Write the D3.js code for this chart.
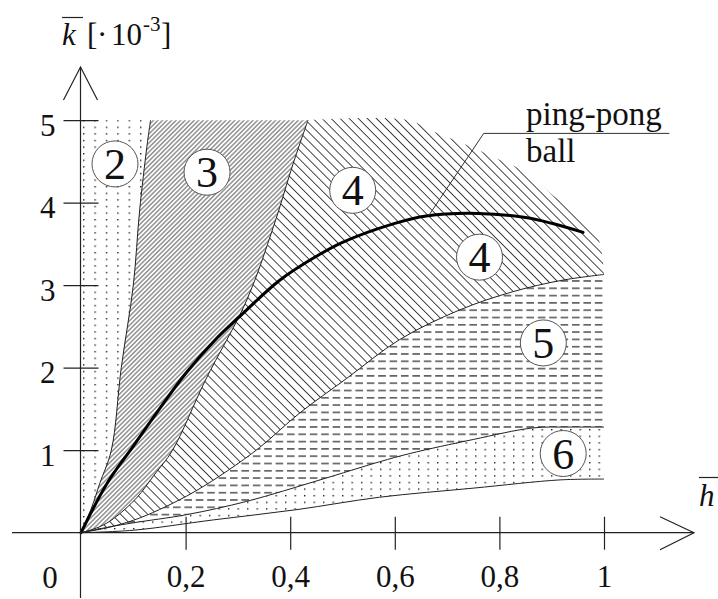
<!DOCTYPE html>
<html>
<head>
<meta charset="utf-8">
<script src="https://cdn.jsdelivr.net/npm/d3@7"></script>
<style>
  html, body { margin: 0; padding: 0; background: #fff; }
  svg { display: block; }
</style>
</head>
<body>
<svg id="chart" width="718" height="599"></svg>
<script>
// Region boundaries, as [h, k] pairs (k in units of 1e-3)
const boundary23 = [[0,0],[0.02,0.3],[0.036,0.6],[0.058,1.0],[0.077,2.0],[0.1,3.0],[0.112,3.9],[0.126,4.68],[0.133,5]];
const boundary34 = [[0,0],[0.035,0.07],[0.062,0.17],[0.106,0.42],[0.14,0.7],[0.175,1.0],[0.238,1.85],[0.317,2.82],[0.368,3.71],[0.406,4.48],[0.434,5]];
const boundary45 = [[0,0],[0.05,0.06],[0.1,0.15],[0.15,0.28],[0.218,0.5],[0.28,0.75],[0.341,1.03],[0.418,1.45],[0.508,1.87],[0.609,2.34],[0.724,2.70],[0.825,2.92],[0.92,3.06],[1.0,3.13]];
const boundary56 = [[0,0],[0.054,0.07],[0.1,0.12],[0.203,0.22],[0.317,0.38],[0.457,0.64],[0.571,0.86],[0.629,0.96],[0.75,1.13],[0.864,1.27],[0.93,1.28],[1.0,1.28]];
const boundaryBottom = [[0,0],[0.1,0.03],[0.253,0.155],[0.413,0.28],[0.571,0.43],[0.75,0.54],[0.916,0.64],[1.0,0.65]];
// outer edge of the hatched zone 4 (not stroked)
const zone4Edge = [[0.434,5],[0.625,5],[0.675,4.86],[0.73,4.72],[0.80,4.52],[0.853,4.36],[0.902,4.09],[0.954,3.85],[0.99,3.55],[1.0,3.13]];
// ping-pong ball curve
const pingPong = [[0,0],[0.05,0.6],[0.1,1.05],[0.15,1.5],[0.2,1.93],[0.26,2.36],[0.3,2.6],[0.38,3.06],[0.45,3.35],[0.5,3.52],[0.6,3.75],[0.66,3.84],[0.76,3.87],[0.85,3.82],[0.9,3.75],[0.96,3.64]];

const xTicks = [0.2, 0.4, 0.6, 0.8, 1];
const xTickLabels = ["0,2", "0,4", "0,6", "0,8", "1"];
const yTicks = [1, 2, 3, 4, 5];
const yTickLabels = ["1", "2", "3", "4", "5"];

const zoneLabels = ["2", "3", "4", "4", "5", "6"];
const zoneLabelH = [0.065, 0.241, 0.5195, 0.762, 0.884, 0.922];
const zoneLabelK = [4.47, 4.37, 4.15, 3.34, 2.30, 0.96];

const calloutText = ["ping-pong", "ball"];

const SERIF = "'Liberation Serif', Tinos, 'Times New Roman', Times, 'DejaVu Serif', serif";

const svg = d3.select("#chart").attr("font-family", SERIF);
const x = d3.scaleLinear().domain([0, 1]).range([81, 604]);
const y = d3.scaleLinear().domain([0, 5]).range([532.7, 120.2]);

function label(sel) {
  return sel.append("text").attr("font-family", SERIF).attr("fill", "#111");
}

// ---- fill patterns ----
const defs = svg.append("defs");

function dotPattern(id, w, h, ox, oy) {
  const p = defs.append("pattern").attr("id", id).attr("patternUnits", "userSpaceOnUse")
    .attr("width", w).attr("height", h).attr("x", ox).attr("y", oy);
  p.append("rect").attr("x", 0).attr("y", 0).attr("width", 1.4).attr("height", 1.4).attr("fill", "#222");
}
function hatchPattern(id, gap, angle, width, color) {
  const p = defs.append("pattern").attr("id", id).attr("patternUnits", "userSpaceOnUse")
    .attr("width", gap).attr("height", gap).attr("patternTransform", `rotate(${angle})`);
  p.append("line").attr("x1", gap / 2).attr("x2", gap / 2).attr("y1", -1).attr("y2", gap + 1)
    .attr("stroke", color).attr("stroke-width", width);
}
dotPattern("dots2", 11.4, 6.6, 83, 120);
dotPattern("dots6", 9.5, 6.6, 0, 0);
hatchPattern("hatch3", 3.2, 45, 0.85, "#3c3c3c");
hatchPattern("hatch4", 6.4, -45, 0.9, "#333");
{
  const p = defs.append("pattern").attr("id", "dash5").attr("patternUnits", "userSpaceOnUse")
    .attr("width", 11.4).attr("height", 7.3).attr("x", 2).attr("y", 0);
  p.append("line").attr("x1", 0).attr("x2", 7.6).attr("y1", 3.6).attr("y2", 3.6)
    .attr("stroke", "#222").attr("stroke-width", 1.2);
}

// ---- path helpers ----
const line = d3.line().x(d => x(d[0])).y(d => y(d[1])).curve(d3.curveCatmullRom.alpha(0.5));
const straight = d3.line().x(d => x(d[0])).y(d => y(d[1]));
function joined(segments) {
  // join curve segments into one closed outline
  return segments.map((s, i) => {
    const p = (s.straight ? straight : line)(s.pts);
    return i === 0 ? p : "L" + p.slice(1);
  }).join("") + "Z";
}
const rev = a => a.slice().reverse();

const zones = svg.append("g");
zones.append("path").attr("fill", "url(#dots2)")
  .attr("d", joined([{pts: [[0, 5], [0, 0]], straight: true}, {pts: boundary23}]));
zones.append("path").attr("fill", "url(#hatch3)")
  .attr("d", joined([{pts: boundary23}, {pts: [[0.133, 5], [0.434, 5]], straight: true}, {pts: rev(boundary34)}]));
zones.append("path").attr("fill", "url(#hatch4)")
  .attr("d", joined([{pts: boundary34}, {pts: zone4Edge}, {pts: rev(boundary45)}]));
zones.append("path").attr("fill", "url(#dash5)")
  .attr("d", joined([{pts: boundary45}, {pts: [[1, 3.13], [1, 1.28]], straight: true}, {pts: rev(boundary56)}]));
zones.append("path").attr("fill", "url(#dots6)")
  .attr("d", joined([{pts: boundary56}, {pts: [[1, 1.28], [1, 0.65]], straight: true}, {pts: rev(boundaryBottom)}]));

// ---- boundary lines ----
const bounds = svg.append("g").attr("fill", "none").attr("stroke", "#222").attr("stroke-width", 1);
[boundary23, boundary34, boundary45, boundary56, boundaryBottom].forEach(b => {
  bounds.append("path").attr("d", line(b));
});

// ping-pong ball curve
svg.append("path").attr("d", line(pingPong)).attr("fill", "none")
  .attr("stroke", "#000").attr("stroke-width", 3).attr("stroke-linecap", "round");

// callout leader
const anchorH = 0.665, anchorK = 3.845;
svg.append("path").attr("fill", "none").attr("stroke", "#333").attr("stroke-width", 1)
  .attr("d", straight([[anchorH, anchorK], [0.77, 4.84], [1.125, 4.84]]));
label(svg).attr("x", 526).attr("y", 125).attr("font-size", 33).text(calloutText[0]);
label(svg).attr("x", 526).attr("y", 162).attr("font-size", 33).text(calloutText[1]);

// ---- zone numbers ----
const zl = svg.append("g");
zoneLabels.forEach((t, i) => {
  const cx = x(zoneLabelH[i]), cy = y(zoneLabelK[i]);
  zl.append("circle").attr("cx", cx).attr("cy", cy).attr("r", 23)
    .attr("fill", "#fff").attr("stroke", "#555").attr("stroke-width", 1);
  label(zl).attr("x", cx).attr("y", cy + 15).attr("text-anchor", "middle")
    .attr("font-size", 44).text(t);
});

// ---- axes ----
const xAxis = d3.axisBottom(x).tickValues(xTicks).tickSize(17)
  .tickFormat((d, i) => xTickLabels[i]);
const gx = svg.append("g").attr("transform", `translate(0,${y(0)})`).call(xAxis)
  .attr("font-family", SERIF);
gx.select(".domain").remove();
gx.selectAll(".tick line").attr("y1", -16).attr("stroke", "#222").attr("stroke-width", 1.2);
gx.selectAll(".tick text").attr("y", 54).attr("dy", 0).attr("font-size", 31)
  .attr("font-family", SERIF).attr("fill", "#111");

const yAxis = d3.axisLeft(y).tickValues(yTicks).tickSize(17)
  .tickFormat((d, i) => yTickLabels[i]);
const gy = svg.append("g").attr("transform", `translate(${x(0) - 0.5},0)`).call(yAxis)
  .attr("font-family", SERIF);
gy.select(".domain").remove();
gy.selectAll(".tick line").attr("x1", 18).attr("stroke", "#222").attr("stroke-width", 1.2);
gy.selectAll(".tick text").attr("x", -25).attr("y", 15).attr("dy", 0).attr("font-size", 31)
  .attr("font-family", SERIF).attr("fill", "#111").attr("text-anchor", "end");

// axis lines with open arrowheads
const ax = svg.append("g").attr("fill", "none").attr("stroke", "#222").attr("stroke-width", 1.2);
const ox = x(0) - 0.5, oy = y(0);
ax.append("line").attr("x1", 12).attr("x2", 694).attr("y1", oy).attr("y2", oy);
ax.append("polyline").attr("points", `660,${oy - 16} 694,${oy} 660,${oy + 17}`);
ax.append("line").attr("x1", ox).attr("x2", ox).attr("y1", 598).attr("y2", 67);
ax.append("polyline").attr("points", `${ox - 17},100 ${ox},67 ${ox + 17},100`);

// origin label
label(svg).attr("x", 50).attr("y", 588).attr("text-anchor", "middle").attr("font-size", 31).text("0");

// axis titles
label(svg).attr("x", 699).attr("y", 506).attr("font-size", 31).attr("font-style", "italic").text("h");
svg.append("line").attr("x1", 699).attr("x2", 718).attr("y1", 477.5).attr("y2", 477.5).attr("stroke", "#222").attr("stroke-width", 1.2);

const kt = label(svg).attr("y", 45).attr("font-size", 31);
kt.append("tspan").attr("x", 62).attr("font-style", "italic").text("k");
kt.append("tspan").attr("x", 87).text("[");
kt.append("tspan").attr("x", 97).text("·");
kt.append("tspan").attr("x", 111).text("10");
kt.append("tspan").attr("x", 143).attr("y", 31).attr("font-size", 21).text("-3");
kt.append("tspan").attr("x", 161).attr("y", 45).text("]");
svg.append("line").attr("x1", 62).attr("x2", 83).attr("y1", 17.5).attr("y2", 17.5).attr("stroke", "#222").attr("stroke-width", 1.2);
</script>
</body>
</html>
